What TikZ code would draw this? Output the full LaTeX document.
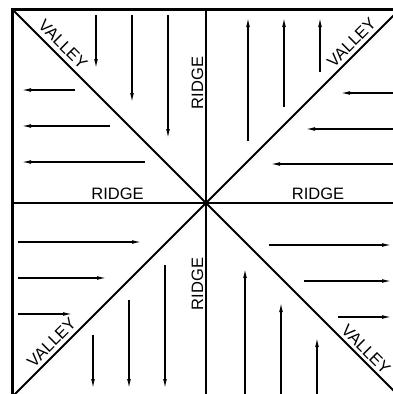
\documentclass[tikz,border=0pt]{standalone}
\usepackage{fontspec}
\setmainfont{Liberation Sans}
\usetikzlibrary{arrows.meta}
\begin{document}
\begin{tikzpicture}[x=1pt,y=-1pt,
  flow/.style={line width=1.1pt,-{Latex[length=9pt,width=3.8pt]}},
  divide/.style={line width=2pt},
  lbl/.style={font=\fontsize{16.5}{17}\selectfont, inner sep=0pt, anchor=base}]
\useasboundingbox (0,0) rectangle (393,394);
\clip (0,0) rectangle (393,394);
\coordinate (C) at (206,203);
\coordinate (TL) at (12.5,9.5);
\coordinate (TR) at (399.5,9.5);
\coordinate (BL) at (12.5,396.5);
\coordinate (BR) at (399.5,396.5);
\coordinate (T) at (206,9.5);
\coordinate (B) at (206,396.5);
\coordinate (L) at (12.5,203);
\coordinate (R) at (399.5,203);
% dividing lines
\draw[divide] (T) -- (B);
\draw[divide] (L) -- (R);
\draw[divide] (TL) -- (BR);
\draw[divide] (TR) -- (BL);
\draw[line width=3pt] (TL) rectangle (BR);
% top-left quadrant
\draw[flow] (96,15) -- (96,68);
\draw[flow] (132,15) -- (132,102);
\draw[flow] (168,15) -- (168,138);
\draw[flow] (75,90) -- (22,90);
\draw[flow] (110,126) -- (22,126);
\draw[flow] (145,162) -- (22,162);
% top-right quadrant
\draw[flow] (248,141) -- (248,18);
\draw[flow] (284,107) -- (284,18);
\draw[flow] (320,72) -- (320,18);
\draw[flow] (400,93) -- (341,93);
\draw[flow] (400,129) -- (306,129);
\draw[flow] (400,164) -- (271,164);
% bottom-left quadrant
\draw[flow] (18,242) -- (141,242);
\draw[flow] (18,278) -- (106,278);
\draw[flow] (18,314) -- (72,314);
\draw[flow] (93,335) -- (93,388);
\draw[flow] (129,300) -- (129,388);
\draw[flow] (165,265) -- (165,388);
% bottom-right quadrant
\draw[flow] (269,245) -- (391,245);
\draw[flow] (304,281) -- (391,281);
\draw[flow] (338,317) -- (391,317);
\draw[flow] (245,394) -- (245,269);
\draw[flow] (281,394) -- (281,303);
\draw[flow] (317,394) -- (317,338);
% labels
\node[lbl] (r1) at (117.5,199) {RIDGE};
\node[lbl] (r2) at (318,199) {RIDGE};
\node[lbl,rotate=90] (r3) at (203,83) {RIDGE};
\node[lbl,rotate=90] (r4) at (203,284) {RIDGE};
\node[lbl,rotate=-45] (v1) at (59,48.5) {VALLEY};
\node[lbl,rotate=45] (v2) at (355.5,46.5) {VALLEY};
\node[lbl,rotate=45] (v3) at (55.5,346.5) {VALLEY};
\node[lbl,rotate=-45] (v4) at (362,353.5) {VALLEY};
\end{tikzpicture}
\end{document}
